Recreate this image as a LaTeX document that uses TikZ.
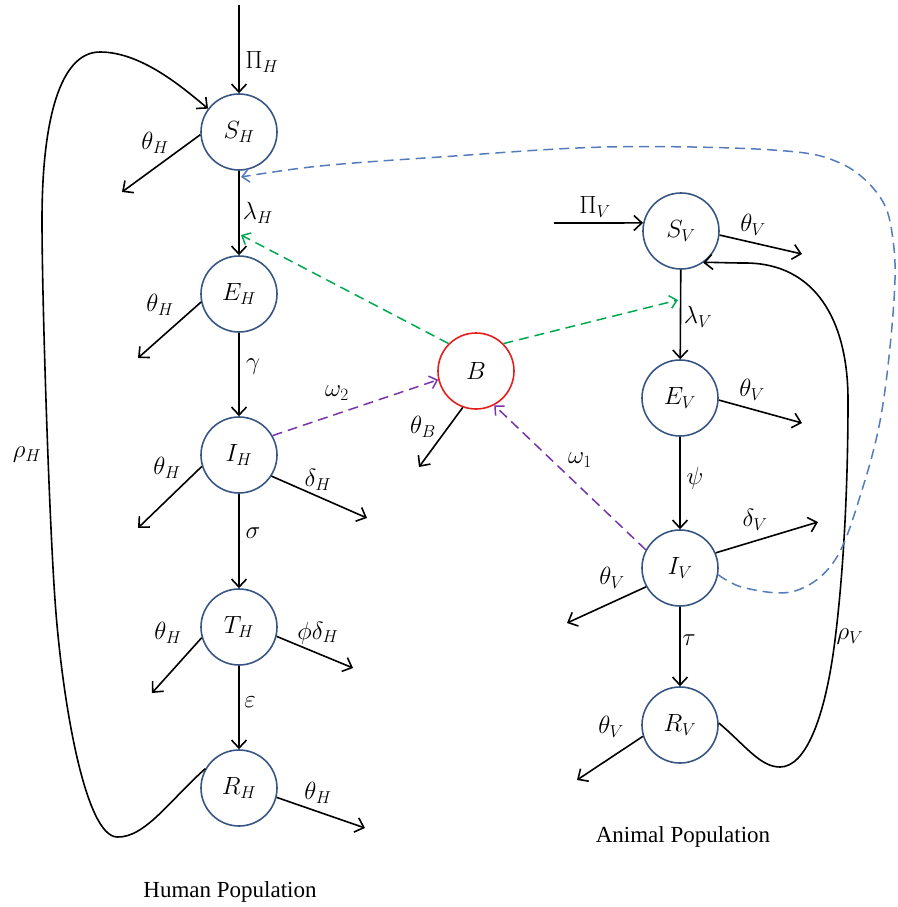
\documentclass[tikz,border=0pt]{standalone}
\usepackage[no-math]{fontspec}
\setmainfont{Liberation Serif}
\usetikzlibrary{arrows.meta}
\definecolor{circblue}{RGB}{56,86,132}
\definecolor{dblue}{RGB}{84,124,186}
\definecolor{dgreen}{RGB}{0,168,80}
\definecolor{dpurple}{RGB}{118,52,170}
\definecolor{bred}{RGB}{230,30,30}
\tikzset{
  st/.style={circle, draw=circblue, line width=1.6pt, minimum size=76pt, inner sep=0pt, fill=white},
  bst/.style={st, draw=bred},
  arr/.style={line width=1.6pt, -{Straight Barb[length=8pt,width=15pt]}},
  dsh/.style={line width=1.5pt, dash pattern=on 10pt off 6pt, -{Straight Barb[length=7pt,width=13pt]}},
  lab/.style={inner sep=0pt},
  ttl/.style={inner sep=0pt, font=\fontsize{23}{27}\selectfont},
}
\begin{document}
\begin{tikzpicture}[x=1pt,y=-1pt,font=\fontsize{24}{28}\selectfont]
\useasboundingbox (0,0) rectangle (897,907);
% human nodes
\node[st] (SH) at (239,132) {$S_H$};
\node[st] (EH) at (239,294) {$E_H$};
\node[st] (IH) at (239,455) {$I_H$};
\node[st] (TH) at (239,627) {$T_H$};
\node[st] (RH) at (239,788) {$R_H$};
% animal nodes
\node[st] (SV) at (681,231) {$S_V$};
\node[st] (EV) at (680,398) {$E_V$};
\node[st] (IV) at (680,568) {$I_V$};
\node[st] (RV) at (680,725) {$R_V$};
% bacteria
\node[bst] (B) at (476,371) {$B$};

% free ends
\coordinate (PiHs) at (239,5);
\coordinate (PiVs) at (554,223);
\coordinate (tSH) at (122,192);
\coordinate (tEH) at (138,358);
\coordinate (tIH) at (138,528);
\coordinate (dIH) at (367,518);
\coordinate (tTH) at (152,693);
\coordinate (pTH) at (353,668);
\coordinate (tRH) at (365,828);
\coordinate (tSV) at (802,254);
\coordinate (tEV) at (802,423);
\coordinate (dIV) at (818,522);
\coordinate (tIV) at (567,623);
\coordinate (tRV) at (577,780);
\coordinate (tB) at (419,467);
\coordinate (blueEnd) at (241,177);
\coordinate (greenH) at (241,235);
\coordinate (greenV) at (678,300);

% main flows
\draw[arr] (PiHs) -- (SH);
\draw[arr] (SH) -- (EH);
\draw[arr] (EH) -- (IH);
\draw[arr] (IH) -- (TH);
\draw[arr] (TH) -- (RH);
\draw[arr] (PiVs) -- (SV.168);
\draw[arr] (SV) -- (EV);
\draw[arr] (EV) -- (IV);
\draw[arr] (IV) -- (RV);

% deaths
\draw[arr] (SH.184) -- (tSH);
\draw[arr] (EH.192) -- (tEH);
\draw[arr] (IH.197) -- (tIH);
\draw[arr] (IH.-33) -- (dIH);
\draw[arr] (TH.196) -- (tTH);
\draw[arr] (TH.-14) -- (pTH);
\draw[arr] (RH.-14) -- (tRH);
\draw[arr] (SV.-6) -- (tSV);
\draw[arr] (EV.-3) -- (tEV);
\draw[arr] (IV.23) -- (dIV);
\draw[arr] (IV.209) -- (tIV);
\draw[arr] (RV.197) -- (tRV);
\draw[arr] (B.250) -- (tB);

% recovery loops
\draw[arr] (RH.150) .. controls (170,800) and (145,838) .. (117,837)
  .. controls (85,836) and (62,700) .. (55,600)
  .. controls (49,515) and (42,300) .. (42,220)
  .. controls (42,120) and (60,52) .. (100,52)
  .. controls (140,52) and (180,85) .. (SH.143);
\draw[arr] (RV.3) .. controls (745,745) and (760,767) .. (780,767)
  .. controls (805,767) and (825,720) .. (835,640)
  .. controls (845,560) and (848,470) .. (848,400)
  .. controls (848,320) and (815,263) .. (745,263)
  .. controls (725,263) and (712,262) .. (SV.-55);

% dashed interactions
\draw[dsh, draw=dblue] plot[smooth, tension=0.6] coordinates {(IV.-10) (745,588) (795,591) (835,560) (862,490) (882,410) (894,300) (893,240) (880,197) (840,163) (773,150) (607,147) (440,157) (320,166) (blueEnd)};
\draw[dsh, draw=dgreen] (B.135) -- (greenH);
\draw[dsh, draw=dgreen] (B.45) -- (greenV);
\draw[dsh, draw=dpurple] (IH.30) -- (B.193);
\draw[dsh, draw=dpurple] (IV.152) -- (B.-62);

% labels
\node[lab] (lPiH) at (262,62) {$\Pi_H$};
\node[lab] (lLH) at (258,213) {$\lambda_H$};
\node[lab] (lga) at (253,367) {$\gamma$};
\node[lab] (lsi) at (253,533) {$\sigma$};
\node[lab] (lep) at (250,702) {$\varepsilon$};
\node[lab] (ltSH) at (155,143) {$\theta_H$};
\node[lab] (ltEH) at (160,305) {$\theta_H$};
\node[lab] (ltIH) at (167,468) {$\theta_H$};
\node[lab] (ltTH) at (168,633) {$\theta_H$};
\node[lab] (ltRH) at (318,793) {$\theta_H$};
\node[lab] (ldH) at (318,480) {$\delta_H$};
\node[lab] (lpdH) at (318,633) {$\phi\delta_H$};
\node[lab] (lrH) at (27,455) {$\rho_H$};
\node[lab] (lw2) at (337,393) {$\omega_2$};
\node[lab] (lw1) at (580,460) {$\omega_1$};
\node[lab] (ltB) at (423,427) {$\theta_B$};
\node[lab] (lPiV) at (595,207) {$\Pi_V$};
\node[lab] (ltSV) at (753,225) {$\theta_V$};
\node[lab] (lLV) at (698,317) {$\lambda_V$};
\node[lab] (ltEV) at (752,390) {$\theta_V$};
\node[lab] (lps) at (695,478) {$\psi$};
\node[lab] (ldV) at (755,520) {$\delta_V$};
\node[lab] (ltIV) at (612,578) {$\theta_V$};
\node[lab] (lta) at (689,640) {$\tau$};
\node[lab] (ltRV) at (611,727) {$\theta_V$};
\node[lab] (lrV) at (850,637) {$\rho_V$};
\node[ttl] (hum) at (230,892) {Human Population};
\node[ttl] (ani) at (683,837) {Animal Population};
\end{tikzpicture}
\end{document}
